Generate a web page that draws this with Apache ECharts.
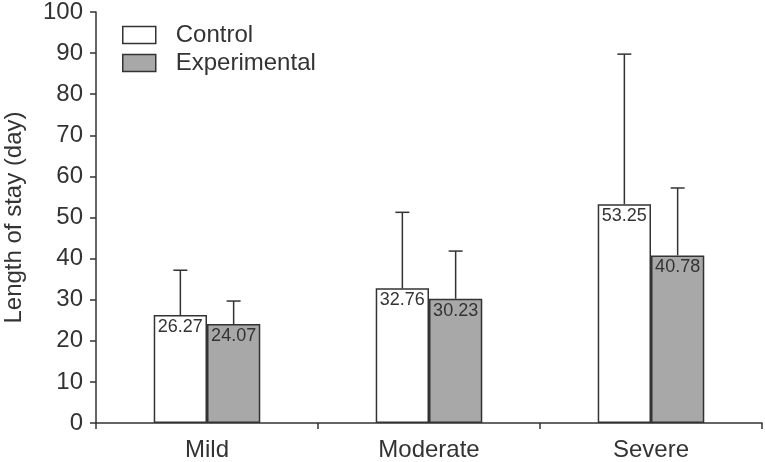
<!DOCTYPE html>
<html>
<head>
<meta charset="utf-8">
<script src="https://cdn.jsdelivr.net/npm/echarts@6/dist/echarts.min.js"></script>
<style>
  html, body { margin: 0; padding: 0; background: #fff; }
  #chart { width: 765px; height: 462px; }
</style>
</head>
<body>
<div id="chart"></div>
<script>
var categories = ['Mild', 'Moderate', 'Severe'];
var controlMean = [26.27, 32.76, 53.25];
var controlSD = [10.9, 18.5, 36.5];
var expMean = [24.07, 30.23, 40.78];
var expSD = [5.6, 11.6, 16.4];
var yTicks = [0, 10, 20, 30, 40, 50, 60, 70, 80, 90, 100];

var BAR_RATIO = 0.24;
var font = 'Liberation Sans, Arial, sans-serif';

// error bars: only the upper whisker, offset to the left/right bar
function errorSeries(name, means, sds, side) {
    var data = [];
    for (var i = 0; i < means.length; i++) {
        data.push([i, means[i], means[i] + sds[i]]);
    }
    return {
        name: name + ' SD',
        type: 'custom',
        z: 5,
        silent: true,
        renderItem: function (params, api) {
            var band = api.size([1, 0])[0];
            var off = side * band * BAR_RATIO / 2;
            var lo = api.coord([api.value(0), api.value(1)]);
            var hi = api.coord([api.value(0), api.value(2)]);
            var x = lo[0] + off;
            var cap = 7;
            var style = { stroke: '#333', lineWidth: 1.5 };
            return {
                type: 'group',
                children: [
                    { type: 'line', shape: { x1: x, y1: lo[1], x2: x, y2: hi[1] }, style: style },
                    { type: 'line', shape: { x1: x - cap, y1: hi[1], x2: x + cap, y2: hi[1] }, style: style }
                ]
            };
        },
        data: data
    };
}

var myChart = echarts.init(document.getElementById('chart'));
var option = {
    animation: false,
    backgroundColor: '#fff',
    textStyle: { fontFamily: font },
    grid: { left: 96, right: 3, top: 12, bottom: 39, containLabel: false, outerBoundsMode: 'none' },
    legend: {
        left: 117,
        top: 18,
        orient: 'vertical',
        icon: 'rect',
        itemWidth: 33,
        itemHeight: 17,
        itemGap: 4,
        data: [
            { name: 'Control', itemStyle: { color: '#fff', borderColor: '#333', borderWidth: 1.5 } },
            { name: 'Experimental', itemStyle: { color: '#a8a8a8', borderColor: '#333', borderWidth: 1.5 } }
        ],
        textStyle: { fontSize: 24, color: '#333', fontFamily: font, padding: [0, 0, 0, 15] }
    },
    xAxis: {
        type: 'category',
        data: categories,
        axisLine: { lineStyle: { color: '#333', width: 1.5 } },
        axisTick: { show: true, length: 6, lineStyle: { color: '#333', width: 1.5 } },
        axisLabel: { fontSize: 24, color: '#333', margin: 15, fontFamily: font }
    },
    yAxis: {
        type: 'value',
        min: yTicks[0],
        max: yTicks[yTicks.length - 1],
        interval: 10,
        name: 'Length of stay (day)',
        nameLocation: 'middle',
        nameGap: 70,
        nameTextStyle: { fontSize: 24, color: '#333', fontFamily: font },
        axisLine: { show: true, lineStyle: { color: '#333', width: 1.5 } },
        axisTick: { show: true, length: 6, lineStyle: { color: '#333', width: 1.5 } },
        axisLabel: { fontSize: 24, color: '#333', margin: 13, fontFamily: font },
        splitLine: { show: false }
    },
    series: [
        {
            name: 'Control',
            type: 'bar',
            barWidth: (BAR_RATIO * 100) + '%',
            barGap: '0%',
            data: controlMean,
            itemStyle: { color: '#fff', borderColor: '#333', borderWidth: 1.5 },
            label: {
                show: true, position: 'insideTop', distance: 3,
                fontSize: 18, color: '#333', fontFamily: font
            }
        },
        {
            name: 'Experimental',
            type: 'bar',
            barWidth: (BAR_RATIO * 100) + '%',
            barGap: '0%',
            data: expMean,
            itemStyle: { color: '#a8a8a8', borderColor: '#333', borderWidth: 1.5 },
            label: {
                show: true, position: 'insideTop', distance: 3,
                fontSize: 18, color: '#333', fontFamily: font
            }
        },
        errorSeries('Control', controlMean, controlSD, -1),
        errorSeries('Experimental', expMean, expSD, 1)
    ]
};
myChart.setOption(option);
</script>
</body>
</html>
